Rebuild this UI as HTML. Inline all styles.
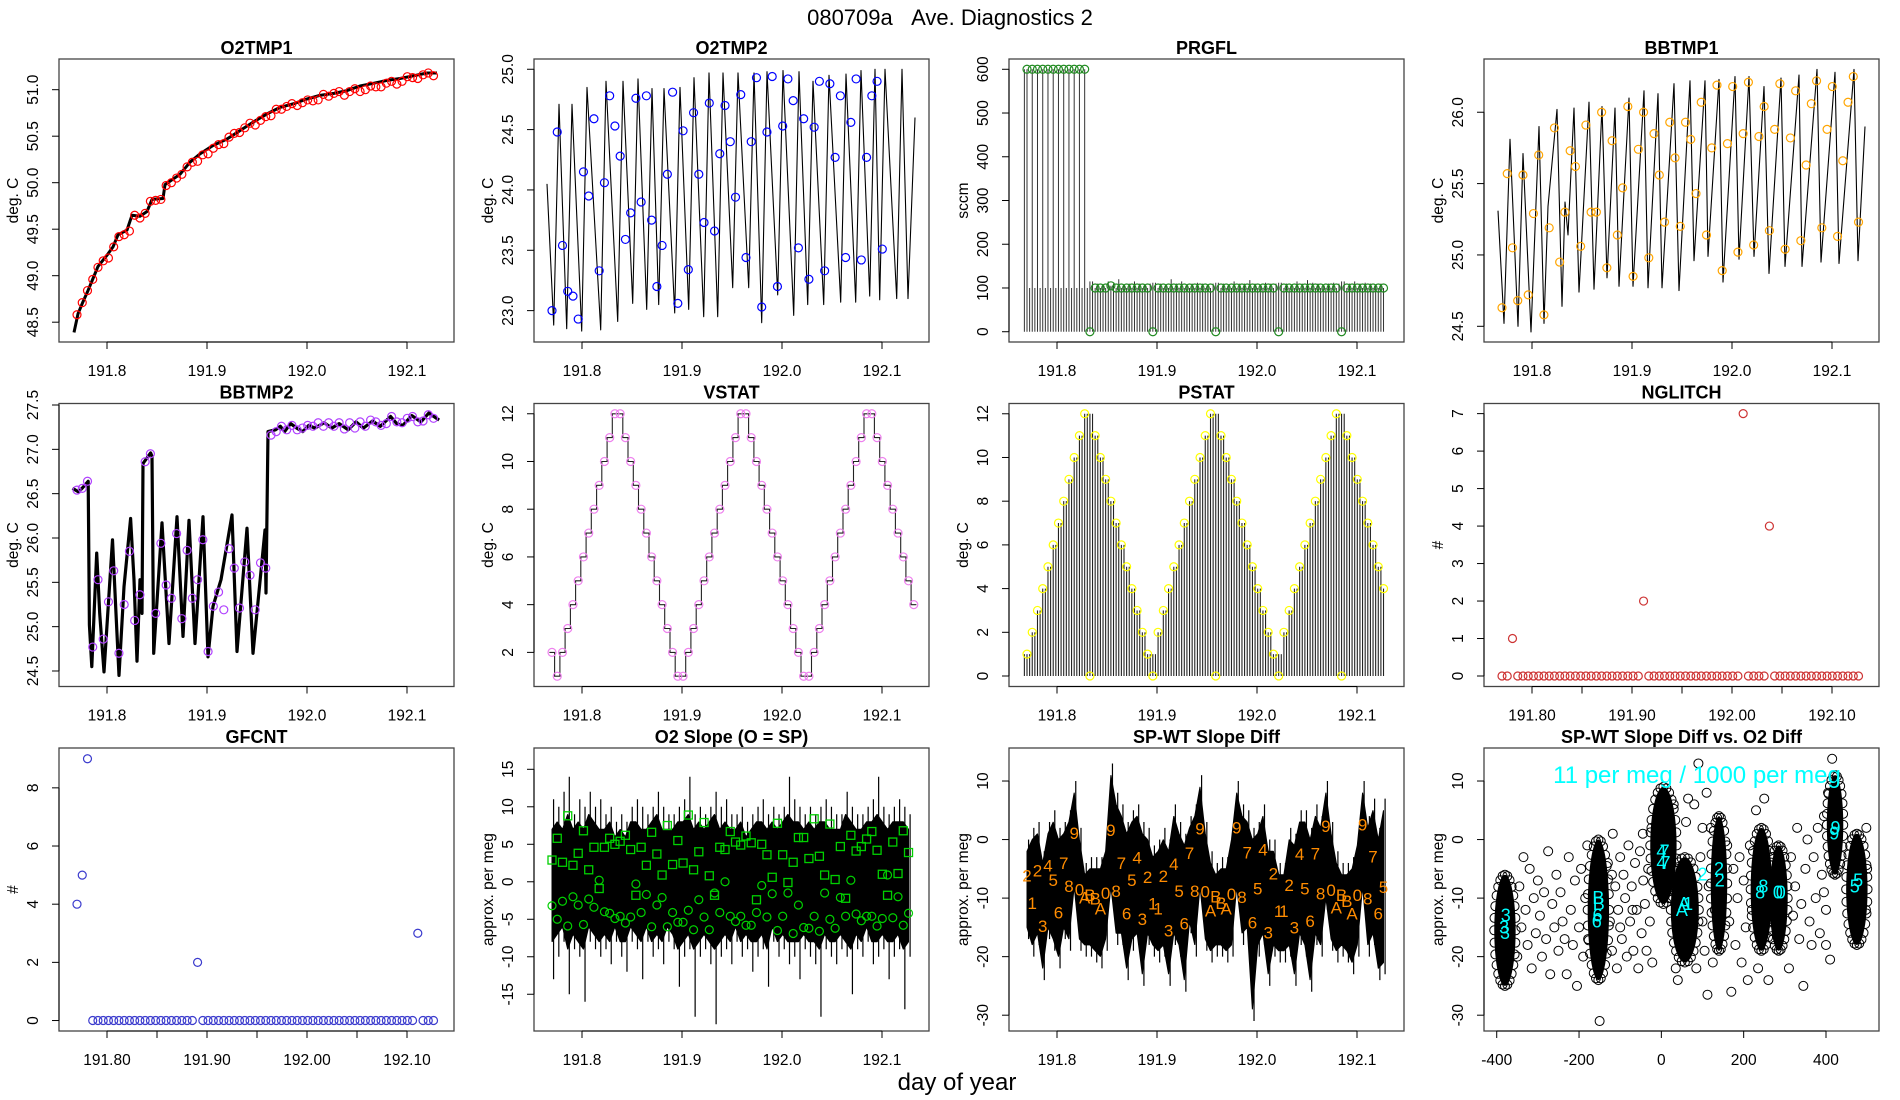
<!DOCTYPE html>
<html><head><meta charset="utf-8"><title>080709a Ave. Diagnostics 2</title>
<style>
html,body{margin:0;padding:0;background:#fff;}
svg{display:block;font-family:"Liberation Sans",Arial,sans-serif;}
</style></head>
<body>
<svg id="chart" width="1900" height="1100" viewBox="0 0 1900 1100" xmlns="http://www.w3.org/2000/svg">
<rect x="0" y="0" width="1900" height="1100" fill="#fff"/>
<text x="950" y="25" font-size="22" text-anchor="middle" fill="#000" style="white-space:pre">080709a&#160;&#160;&#160;Ave. Diagnostics 2</text>
<text x="957" y="1090" font-size="24" text-anchor="middle" fill="#000">day of year</text>
</svg>
<script>
// ---------------- data ----------------
const T0 = 191.770, DT = 0.005243;
const timeTicks = [191.8, 191.9, 192.0, 192.1];
const timeTickLabels = ["191.8", "191.9", "192.0", "192.1"];
const countTicks = [191.80, 191.85, 191.90, 191.95, 192.00, 192.05, 192.10];
const countTickLabels = ["191.80", "", "191.90", "", "192.00", "", "192.10"];

// O2TMP1
const o2t1LineT = [191.767,191.771,191.776,191.781,191.786,191.791,191.800,191.806,191.811,191.820,191.825,191.833,191.840,191.845,191.856,191.858,191.873,191.883,191.893,191.906,191.920,191.933,191.946,191.960,191.973,191.987,192.000,192.013,192.027,192.040,192.053,192.067,192.080,192.093,192.107,192.120,192.130];
const o2t1LineV = [48.39,48.59,48.72,48.84,48.97,49.10,49.22,49.31,49.44,49.49,49.65,49.64,49.69,49.82,49.83,49.98,50.09,50.22,50.31,50.40,50.47,50.56,50.65,50.74,50.81,50.85,50.90,50.94,50.96,50.99,51.04,51.07,51.10,51.12,51.15,51.18,51.18];
const o2t1Circ = [48.58,48.71,48.84,48.96,49.09,49.16,49.19,49.31,49.42,49.44,49.48,49.65,49.62,49.67,49.80,49.81,49.82,49.97,50.00,50.05,50.09,50.17,50.22,50.23,50.30,50.31,50.37,50.41,50.42,50.49,50.53,50.54,50.59,50.64,50.62,50.67,50.71,50.72,50.79,50.79,50.82,50.85,50.83,50.86,50.89,50.88,50.89,50.95,50.93,50.96,50.98,50.94,50.98,51.01,50.98,51.00,51.04,51.03,51.03,51.07,51.09,51.06,51.09,51.14,51.13,51.12,51.16,51.18,51.15];

// O2TMP2
const o2t2Start = [191.765, 24.05];
const o2t2End = [192.133, 24.60];
const o2t2PeakT = [191.777,191.790,191.805,191.824,191.841,191.856,191.870,191.882,191.898,191.912,191.927,191.941,191.956,191.972,191.985,192.001,192.017,192.031,192.047,192.064,192.079,192.093,192.103,192.120];
const o2t2PeakV = [24.71,24.71,24.85,24.90,24.90,24.92,24.84,24.84,24.85,24.93,24.97,24.97,24.97,24.97,24.98,24.99,24.98,24.90,24.95,24.96,24.99,25.00,25.00,25.00];
const o2t2TroughV = [22.88,22.85,22.83,22.84,22.91,23.06,23.01,23.05,22.98,23.01,22.95,22.95,23.19,23.19,22.90,23.13,22.96,23.05,23.05,23.07,23.07,23.12,23.09,23.10,23.10];
const o2t2Circ = [23.00,24.48,23.54,23.16,23.12,22.93,24.15,23.95,24.59,23.33,24.06,24.78,24.53,24.28,23.59,23.81,24.76,23.90,24.78,23.75,23.20,23.54,24.13,24.81,23.06,24.49,23.34,24.64,24.13,23.73,24.72,23.66,24.30,24.70,24.40,23.94,24.79,23.44,24.40,24.93,23.03,24.48,24.94,23.20,24.53,24.92,24.74,23.52,24.59,23.26,24.52,24.90,23.33,24.88,24.27,24.78,23.44,24.56,24.92,23.42,24.27,24.78,24.90,23.51];

// PRGFL
const prgflCirc = [600,600,600,600,600,600,600,600,600,600,600,600,0,100,100,100,105,100,100,100,100,100,100,100,0,100,100,100,100,100,100,100,100,100,100,100,0,100,100,100,100,100,100,100,100,100,100,100,0,100,100,100,100,100,100,100,100,100,100,100,0,100,100,100,100,100,100,100,100];
const prgflMid = [100,100,100,100,100,100,100,100,100,100,100,100,115,110,105,115,110,120,105,110,115,110,105,110,112,110,105,120,110,115,105,110,112,110,108,110,112,110,105,115,110,110,118,110,105,112,110,110,112,110,108,115,110,118,112,110,105,110,112,110,115,110,115,110,112,110,108,110,110];

// BBTMP1
const bb1T = [191.766,191.772,191.778,191.786,191.791,191.799,191.807,191.812,191.816,191.825,191.830,191.833,191.836,191.842,191.847,191.857,191.862,191.870,191.875,191.883,191.887,191.897,191.901,191.912,191.916,191.926,191.930,191.942,191.947,191.958,191.962,191.973,191.976,191.987,191.991,192.003,192.007,192.017,192.022,192.032,192.037,192.049,192.053,192.067,192.070,192.085,192.089,192.103,192.107,192.122,192.126,192.133];
const bb1V = [25.31,24.52,25.81,24.50,25.71,24.46,25.90,24.52,25.34,26.02,24.64,25.37,25.14,26.03,24.74,26.07,24.76,26.04,24.84,26.03,24.78,26.10,24.78,26.15,24.77,26.13,24.77,26.20,24.75,26.22,24.96,26.22,24.99,26.23,24.81,26.25,24.97,26.25,24.99,26.18,24.87,26.24,24.92,26.26,24.92,26.30,24.95,26.28,24.94,26.30,24.96,25.90];
const bb1Circ = [24.63,25.57,25.05,24.68,25.56,24.72,25.29,25.70,24.58,25.19,25.89,24.95,25.30,25.73,25.62,25.06,25.91,25.30,25.30,26.00,24.91,25.80,25.14,25.47,26.04,24.85,25.74,26.00,24.98,25.85,25.56,25.23,25.93,25.68,25.20,25.93,25.81,25.43,26.07,25.14,25.75,26.19,24.89,25.78,26.18,25.02,25.85,26.21,25.07,25.83,26.04,25.17,25.88,26.20,25.04,25.82,26.15,25.10,25.63,26.06,26.22,25.19,25.88,26.18,25.13,25.66,26.07,26.25,25.23];

// BBTMP2
const bb2T = [191.7655,191.7715,191.7758,191.7812,191.7824,191.7848,191.7897,191.7927,191.797,191.8055,191.809,191.812,191.817,191.8236,191.827,191.830,191.833,191.835,191.836,191.8436,191.845,191.8467,191.855,191.862,191.870,191.876,191.882,191.888,191.896,191.901,191.906,191.914,191.925,191.930,191.940,191.946,191.958,191.959,191.961,191.9685,191.9733,191.9776,191.9836,191.9897,191.9958,192.0018,192.0079,192.017,192.0248,192.0321,192.0412,192.049,192.0564,192.0655,192.0733,192.0836,192.0897,192.0958,192.1048,192.1139,192.1218,192.1321];
const bb2V = [26.56,26.52,26.57,26.64,25.02,24.55,25.83,25.15,24.49,25.98,25.15,24.45,25.45,26.22,25.53,24.61,25.53,25.15,26.84,26.96,26.92,24.70,26.17,24.81,26.24,24.89,26.20,24.81,26.24,24.66,25.23,25.53,26.26,24.72,26.11,24.70,26.09,25.38,27.20,27.22,27.26,27.20,27.29,27.24,27.20,27.27,27.24,27.30,27.24,27.29,27.22,27.31,27.24,27.32,27.26,27.37,27.29,27.27,27.38,27.31,27.41,27.33];
const bb2Circ = [26.54,26.56,26.64,24.77,25.53,24.86,25.28,25.63,24.70,25.25,25.85,25.07,25.36,26.86,26.95,25.15,25.94,25.47,25.32,26.05,25.09,25.86,25.32,25.53,25.98,24.72,25.23,25.39,25.19,25.88,25.66,25.21,25.73,25.58,25.19,25.72,25.66,27.16,27.20,27.26,27.22,27.27,27.22,27.24,27.27,27.26,27.30,27.26,27.30,27.26,27.30,27.23,27.30,27.24,27.31,27.26,27.33,27.31,27.27,27.29,27.37,27.31,27.30,27.35,27.37,27.31,27.32,27.39,27.35];

// VSTAT / PSTAT / NGLITCH / GFCNT
const vstat = [2,1,2,3,4,5,6,7,8,9,10,11,12,12,11,10,9,8,7,6,5,4,3,2,1,1,2,3,4,5,6,7,8,9,10,11,12,12,11,10,9,8,7,6,5,4,3,2,1,1,2,3,4,5,6,7,8,9,10,11,12,12,11,10,9,8,7,6,5,4];
const pstat = [1,2,3,4,5,6,7,8,9,10,11,12,0,11,10,9,8,7,6,5,4,3,2,1,0,2,3,4,5,6,7,8,9,10,11,12,0,11,10,9,8,7,6,5,4,3,2,1,0,2,3,4,5,6,7,8,9,10,11,12,0,11,10,9,8,7,6,5,4];
const pstatMid = [1,2,3,4,5,6,7,8,9,10,11,12,12,11,10,9,8,7,6,5,4,3,2,1,1,2,3,4,5,6,7,8,9,10,11,12,12,11,10,9,8,7,6,5,4,3,2,1,1,2,3,4,5,6,7,8,9,10,11,12,12,11,10,9,8,7,6,5,4];
const nglitch = [0,0,1,0,0,0,0,0,0,0,0,0,0,0,0,0,0,0,0,0,0,0,0,0,0,0,0,2,0,0,0,0,0,0,0,0,0,0,0,0,0,0,0,0,0,0,7,0,0,0,0,4,0,0,0,0,0,0,0,0,0,0,0,0,0,0,0,0,0];
const gfcnt = [4,5,9,0,0,0,0,0,0,0,0,0,0,0,0,0,0,0,0,0,0,0,0,2,0,0,0,0,0,0,0,0,0,0,0,0,0,0,0,0,0,0,0,0,0,0,0,0,0,0,0,0,0,0,0,0,0,0,0,0,0,0,0,0,0,3,0,0,0];

// O2 Slope: core band and spike extremes
const slopeHi = [7,8,7,9,7,8,7,9,8,7,7,8,6,7,6,8,8,7,7,8,9,7,7,7,8,8,9,7,8,7,8,9,7,8,7,7,8,6,7,8,8,7,8,7,8,9,8,8,7,8,7,8,8,7,7,7,9,8,7,7,8,8,9,8,7,8,8,8,7];
const slopeLo = [-8,-7,-6,-9,-7,-8,-9,-6,-7,-8,-7,-8,-6,-8,-8,-6,-7,-8,-6,-8,-7,-8,-6,-7,-9,-8,-7,-9,-8,-7,-8,-9,-8,-7,-8,-6,-8,-7,-8,-8,-7,-9,-6,-8,-7,-8,-8,-8,-7,-8,-8,-9,-7,-8,-8,-7,-8,-9,-7,-8,-6,-8,-8,-7,-8,-8,-7,-9,-8];
const slopeSpikeHi = [11,10,12,14,9,11,10,12,10,11,9,10,8,9,8,10,11,10,9,10,12,10,9,9,10,11,14,9,10,9,10,12,10,11,9,9,10,8,9,10,11,9,10,9,10,14,11,10,9,10,9,10,11,10,9,9,12,10,9,9,10,11,14,10,9,10,11,10,9];
const slopeSpikeLo = [-13,-10,-8,-15,-9,-10,-16,-8,-9,-10,-9,-11,-8,-10,-12,-8,-9,-13,-8,-10,-9,-11,-8,-9,-14,-10,-9,-18,-10,-9,-11,-19,-10,-9,-11,-8,-10,-9,-12,-10,-9,-14,-8,-10,-9,-11,-10,-13,-9,-10,-11,-18,-9,-10,-11,-9,-10,-15,-9,-10,-8,-11,-10,-9,-13,-10,-9,-17,-10];
const slopeSq = [2.9,5.8,2.6,8.8,2.2,3.8,6.8,1.6,4.6,-0.9,4.6,5.8,5.0,5.4,6.2,4.3,-1.8,4.6,2.2,6.6,3.7,0.9,7.5,2.3,5.5,2.5,8.9,1.6,4.0,7.9,0.8,-1.8,4.6,4.3,6.7,5.3,4.9,6.1,5.2,-2.4,5.0,3.6,0.6,7.8,3.6,-0.1,2.6,5.9,5.9,3.1,8.4,3.4,0.9,7.7,0.3,4.7,-2.2,6.2,4.1,4.7,5.7,6.7,4.2,1.0,-1.8,5.3,1.1,6.8,3.9];
const slopeCirc = [-3.2,-5.0,-2.6,-5.9,-2.0,-3.1,-5.7,-2.3,-3.4,0.2,-4.0,-4.2,-4.9,-4.6,-5.5,-4.7,-0.3,-4.1,-1.7,-6.0,-3.1,-2.1,-6.0,-4.1,-5.4,-5.4,-3.8,-6.4,-2.4,-4.7,-6.4,-1.5,-4.1,0.0,-4.6,-5.3,-4.6,-5.8,-5.8,-4.1,-0.5,-4.7,-1.6,-6.5,-4.6,-1.5,-6.9,-3.1,-6.1,-6.2,-4.6,-6.6,-1.5,-5.0,-6.2,-2.1,-4.6,0.2,-4.3,-5.2,-4.6,-4.6,-5.9,-4.9,0.9,-4.8,-2.0,-5.8,-4.2];

// SP-WT Slope Diff
const diffHi = [0,2,3,-2,3,5,2,3,5,10,2,-4,-3,-3,-3,0,13,8,6,3,5,6,3,2,-1,0,2,0,6,3,1,4,6,11,3,-2,-4,-3,-3,2,10,6,5,2,3,6,0,0,-4,-4,2,1,5,5,2,6,4,10,3,-2,-4,-4,-3,1,10,4,7,2,7];
const diffLo = [-17,-20,-18,-24,-17,-19,-22,-17,-19,-10,-19,-20,-20,-21,-22,-19,-10,-18,-18,-24,-19,-18,-25,-18,-20,-21,-20,-25,-18,-20,-26,-16,-20,-10,-19,-21,-20,-20,-21,-20,-10,-18,-17,-31,-20,-18,-25,-20,-21,-21,-20,-25,-18,-20,-26,-18,-20,-12,-19,-21,-20,-21,-23,-20,-10,-20,-18,-24,-23];
const diffLbl = ["2","1","2","3","4","5","6","7","8","9","0","A","B","B","A","0","9","8","7","6","5","4","3","2","1","1","2","3","4","5","6","7","8","9","0","A","B","B","A","0","9","8","7","6","5","4","3","2","1","1","2","3","4","5","6","7","8","9","0","A","B","B","A","0","9","8","7","6","5"];
const diffLblV = [-6.1,-10.8,-5.3,-14.8,-4.4,-6.9,-12.5,-4.0,-7.9,1.1,-8.5,-9.9,-9.5,-10.1,-11.8,-9.1,1.6,-8.8,-4.0,-12.6,-6.9,-3.1,-13.6,-6.4,-10.9,-11.8,-6.2,-15.5,-4.2,-8.8,-14.3,-2.3,-8.8,1.9,-8.9,-12.1,-9.7,-10.8,-11.8,-9.3,2.1,-9.8,-2.2,-14.2,-8.4,-1.7,-15.9,-5.8,-12.2,-12.2,-7.8,-15.0,-2.5,-8.4,-13.9,-2.4,-9.2,2.3,-8.6,-11.6,-9.5,-10.5,-12.6,-9.5,2.6,-10.1,-2.9,-12.6,-8.1];

// Scatter: SP-WT slope diff vs O2 diff
const clusterX = [-380,-153,5,57,140,243,285,422,475];
const clusterXSpread = [26,26,32,34,20,26,22,20,26];
const clusterYLo = [-25,-24,-11,-21,-19,-19,-19,-6,-18];
const clusterYHi = [-6,0,9,-3,4,2,-1,11,1];
const scatX = [-350,-345,-340,-335,-330,-325,-320,-315,-310,-305,-300,-295,-290,-285,-280,-275,-270,-265,-260,-255,-250,-245,-240,-235,-230,-225,-220,-215,-210,-205,-200,-195,-190,-185,-180,-178,
 -130,-125,-120,-118,-112,-108,-105,-100,-96,-92,-88,-84,-80,-76,-72,-68,-64,-60,-56,-52,-48,-44,-40,-36,-32,-28,-24,-22,-120,-100,-70,-45,
 30,35,40,60,65,80,90,95,100,105,110,112,115,120,125,130,100,85,
 160,165,170,175,180,185,190,195,200,205,210,215,220,230,235,250,260,
 310,315,320,325,330,335,340,345,350,355,360,365,370,375,380,385,390,395,400,405,410,415,400,395,
 497,500,498,-150];
const scatY = [-20,-8,-15,-3,-12,-18,-5,-22,-10,-16,-7,-13,-20,-9,-17,-2,-23,-11,-15,-6,-19,-9,-14,-17,-23,-3,-12,-18,-7,-25,-15,-5,-20,-10,-1,-17,
 -4,-14,-19,1,-8,-22,-12,-3,-17,-6,-10,-20,-1,-14,-8,-19,-4,-12,-22,-2,-16,-7,-11,-19,-5,-14,2,-21,-6,-15,-12,1,
 6,-22,-24,3,7,6,13,-3,-14,-19,8,-26.5,-8,2,-21,-12,2,-22,
 -1,-14,-26,-5,-18,-10,-3,-21,-7,-15,-24,-1,-12,5,-22,7,-24,
 -22,-3,-13,-8,2,-17,-11,-25,-5,0,-14,-18,-3,-10,2,-16,-6,4,-12,8,-20.5,13.8,-18,-9,
 -12,-5,2,-31];
const cyanX = [-382,-378,-380,-153,-155,-152,-157,0,8,0,10,55,65,50,100,140,142,240,248,283,290,420,423,478,470];
const cyanY = [-15,-13,-16,-10,-13,-11,-14,-2,-2,-4,-4,-11,-11,-12,-6,-5,-7,-9,-8,-9,-9,1,2,-7,-8];
const cyanTxt = ["3","3","3","B","6","B","6","4","7","4","7","A","1","A","2","2","2","8","8","0","0","9","9","5","5"];
const scatXTicks = [-400,-200,0,200,400];
const scatXTickLabels = ["-400","-200","0","200","400"];

// ---------------- drawing ----------------
const NS = "http://www.w3.org/2000/svg";
const svg = document.getElementById("chart");
const COLX = [59, 534, 1009, 1484];
const ROWY = [59, 403.5, 748];
const BW = 395, BH = 283;
const TDOM = [191.752, 192.147];

function mk(tag, attrs, parent) {
  const e = document.createElementNS(NS, tag);
  for (const k in attrs) e.setAttribute(k, attrs[k]);
  (parent || svg).appendChild(e);
  return e;
}
function tAt(i) { return T0 + i * DT; }

function frame(c, r, name, title, ylab, ylim, yticks, ylabels, xticks, xlabels, xdom) {
  const x0 = COLX[c], y0 = ROWY[r];
  const g = mk("g", {});
  
  
  const sx = v => x0 + (v - xdom[0]) / (xdom[1] - xdom[0]) * BW;
  const sy = v => y0 + BH - (v - ylim[0]) / (ylim[1] - ylim[0]) * BH;
  const box = mk("rect", {x: x0, y: y0, width: BW, height: BH, fill: "none", stroke: "#444", "stroke-width": 1.3}, g);
  
  
  const tt = mk("text", {x: x0 + BW / 2, y: y0 - 5, "font-size": 18, "font-weight": "bold", "text-anchor": "middle"}, g);
  tt.textContent = title;
  
  
  const yax = mk("g", {}, g);
  
  
  const yl = mk("line", {x1: x0, x2: x0, y1: sy(yticks[0]), y2: sy(yticks[yticks.length - 1]), stroke: "#000", "stroke-width": 1}, yax);
  
  
  yticks.forEach((v, i) => {
    const tk = mk("line", {x1: x0 - 7, x2: x0, y1: sy(v), y2: sy(v), stroke: "#000", "stroke-width": 1}, yax);
    
    
    const lb = mk("text", {x: x0 - 21, y: sy(v), "font-size": 15.5, "text-anchor": "middle", transform: `rotate(-90 ${x0 - 21} ${sy(v)})`}, yax);
    lb.textContent = ylabels[i];
    
    
  });
  const yt = mk("text", {x: x0 - 41, y: y0 + BH / 2, "font-size": 15.5, "text-anchor": "middle", transform: `rotate(-90 ${x0 - 41} ${y0 + BH / 2})`}, g);
  yt.textContent = ylab;
  
  
  const xax = mk("g", {}, g);
  
  
  const xl = mk("line", {x1: sx(xticks[0]), x2: sx(xticks[xticks.length - 1]), y1: y0 + BH, y2: y0 + BH, stroke: "#000", "stroke-width": 1}, xax);
  
  
  xticks.forEach((v, i) => {
    const tk = mk("line", {x1: sx(v), x2: sx(v), y1: y0 + BH, y2: y0 + BH + 7, stroke: "#000", "stroke-width": 1}, xax);
    
    
    if (xlabels[i]) {
      const lb = mk("text", {x: sx(v), y: y0 + BH + 34, "font-size": 15.5, "text-anchor": "middle"}, xax);
      lb.textContent = xlabels[i];
      
      
    }
  });
  const clipId = "clip-" + name;
  const cp = mk("clipPath", {id: clipId}, g);
  mk("rect", {x: x0, y: y0, width: BW, height: BH}, cp);
  const marks = mk("g", {"clip-path": `url(#${clipId})`}, g);
  
  
  return {g: marks, sx, sy};
}
function rng(a, b, s) { const o = []; for (let v = a; v <= b + 1e-9; v += s) o.push(+v.toFixed(4)); return o; }
function fmt(arr, d) { return arr.map(v => v.toFixed(d)); }

function polyline(P, xs, ys, stroke, sw, name) {
  const pts = xs.map((x, i) => P.sx(x).toFixed(1) + "," + P.sy(ys[i]).toFixed(1)).join(" ");
  const e = mk("polyline", {points: pts, fill: "none", stroke: stroke, "stroke-width": sw, "stroke-linejoin": "round"}, P.g);
  
  
  return e;
}
function circles(P, vals, color, name) {
  vals.forEach((v, i) => {
    const c = mk("circle", {cx: P.sx(tAt(i)), cy: P.sy(v), r: 4, fill: "none", stroke: color, "stroke-width": 1.2}, P.g);
    
    
  });
}
function spikes(P, hi, lo, name) {
  hi.forEach((v, i) => {
    const x = P.sx(tAt(i) + DT * 0.3);
    const l = mk("line", {x1: x, x2: x, y1: P.sy(v), y2: P.sy(lo[i]), stroke: "#000", "stroke-width": 1.2}, P.g);
    
    
  });
}

// 1 O2TMP1
{
  const yt = rng(48.5, 51.0, 0.5);
  const P = frame(0, 0, "o2tmp1", "O2TMP1", "deg. C", [48.287, 51.33], yt, fmt(yt, 1), timeTicks, timeTickLabels, TDOM);
  polyline(P, o2t1LineT, o2t1LineV, "#000", 3, "o2tmp1-line");
  circles(P, o2t1Circ, "#ff0000", "o2tmp1-point");
}
// 2 O2TMP2
{
  const yt = rng(23.0, 25.0, 0.5);
  const P = frame(1, 0, "o2tmp2", "O2TMP2", "deg. C", [22.74, 25.085], yt, fmt(yt, 1), timeTicks, timeTickLabels, TDOM);
  const xs = [o2t2Start[0]], ys = [o2t2Start[1]];
  o2t2PeakT.forEach((t, i) => { xs.push(t - 0.0053); ys.push(o2t2TroughV[i]); xs.push(t); ys.push(o2t2PeakV[i]); });
  xs.push(o2t2PeakT[o2t2PeakT.length - 1] + 0.006); ys.push(o2t2TroughV[o2t2TroughV.length - 1]);
  xs.push(o2t2End[0]); ys.push(o2t2End[1]);
  polyline(P, xs, ys, "#000", 1.1, "o2tmp2-line");
  circles(P, o2t2Circ, "#0000ff", "o2tmp2-point");
}
// 3 PRGFL
{
  const yt = rng(0, 600, 100);
  const P = frame(2, 0, "prgfl", "PRGFL", "sccm", [-23.5, 623.5], yt, yt.map(String), timeTicks, timeTickLabels, TDOM);
  prgflCirc.forEach((v, i) => {
    const l = mk("line", {x1: P.sx(tAt(i) - DT / 2), x2: P.sx(tAt(i) - DT / 2), y1: P.sy(0), y2: P.sy(i === 0 ? v : prgflMid[i - 1]), stroke: "#333", "stroke-width": 1}, P.g);
    
    
    const l2 = mk("line", {x1: P.sx(tAt(i)), x2: P.sx(tAt(i)), y1: P.sy(0), y2: P.sy(v === 0 ? prgflMid[i] : v), stroke: "#333", "stroke-width": 1}, P.g);
    
    
  });
  circles(P, prgflCirc, "#228b22", "prgfl-point");
}
// 4 BBTMP1
{
  const yt = rng(24.5, 26.0, 0.5);
  const P = frame(3, 0, "bbtmp1", "BBTMP1", "deg. C", [24.39, 26.373], yt, fmt(yt, 1), timeTicks, timeTickLabels, TDOM);
  polyline(P, bb1T, bb1V, "#000", 1.1, "bbtmp1-line");
  circles(P, bb1Circ, "#ffa500", "bbtmp1-point");
}
// 5 BBTMP2
{
  const yt = rng(24.5, 27.5, 0.5);
  const P = frame(0, 1, "bbtmp2", "BBTMP2", "deg. C", [24.325, 27.517], yt, fmt(yt, 1), timeTicks, timeTickLabels, TDOM);
  polyline(P, bb2T, bb2V, "#000", 3.2, "bbtmp2-line");
  circles(P, bb2Circ, "#b040ff", "bbtmp2-point");
}
// 6 VSTAT
{
  const yt = rng(2, 12, 2);
  const P = frame(1, 1, "vstat", "VSTAT", "deg. C", [0.57, 12.43], yt, yt.map(String), timeTicks, timeTickLabels, TDOM);
  let d = "";
  vstat.forEach((v, i) => {
    const x = P.sx(tAt(i) - DT / 2), x2 = P.sx(tAt(i) + DT / 2), y = P.sy(v);
    d += (i === 0 ? "M" : "L") + x.toFixed(1) + "," + y.toFixed(1) + " L" + x2.toFixed(1) + "," + y.toFixed(1) + " ";
  });
  const p = mk("path", {d: d, fill: "none", stroke: "#222", "stroke-width": 1.1}, P.g);
  
  
  circles(P, vstat, "#ee82ee", "vstat-point");
}
// 7 PSTAT
{
  const yt = rng(0, 12, 2);
  const P = frame(2, 1, "pstat", "PSTAT", "deg. C", [-0.48, 12.47], yt, yt.map(String), timeTicks, timeTickLabels, TDOM);
  pstat.forEach((v, i) => {
    [[tAt(i) - DT / 2, i === 0 ? v : pstatMid[i - 1]], [tAt(i), pstatMid[i]]].forEach(q => {
      const l = mk("line", {x1: P.sx(q[0]), x2: P.sx(q[0]), y1: P.sy(0), y2: P.sy(q[1]), stroke: "#222", "stroke-width": 1.1}, P.g);
      
      
    });
  });
  circles(P, pstat, "#ffff00", "pstat-point");
}
// 8 NGLITCH
{
  const yt = rng(0, 7, 1);
  const P = frame(3, 1, "nglitch", "NGLITCH", "#", [-0.28, 7.27], yt, yt.map(String), countTicks, countTickLabels, TDOM);
  circles(P, nglitch, "#cd3333", "nglitch-point");
}
// 9 GFCNT
{
  const yt = rng(0, 8, 2);
  const P = frame(0, 2, "gfcnt", "GFCNT", "#", [-0.36, 9.37], yt, yt.map(String), countTicks, countTickLabels, TDOM);
  circles(P, gfcnt, "#3a3acd", "gfcnt-point");
}
// 10 O2 Slope
{
  const yt = rng(-15, 15, 5);
  const P = frame(1, 2, "o2-slope", "O2 Slope (O = SP)", "approx. per meg", [-19.9, 17.84], yt, yt.map(String), timeTicks, timeTickLabels, TDOM);
  spikes(P, slopeSpikeHi, slopeSpikeLo, 'o2-slope-spike');
  const up = slopeHi.map((v, i) => P.sx(tAt(i)).toFixed(1) + "," + P.sy(v).toFixed(1));
  const dn = slopeLo.map((v, i) => P.sx(tAt(i)).toFixed(1) + "," + P.sy(v).toFixed(1)).reverse();
  const band = mk("polygon", {points: up.concat(dn).join(" "), fill: "#000", stroke: "#000", "stroke-width": 1, "stroke-linejoin": "bevel"}, P.g);
  
  
  slopeSq.forEach((v, i) => {
    const s = mk("rect", {x: P.sx(tAt(i)) - 4, y: P.sy(v) - 4, width: 8, height: 8, fill: "none", stroke: "#00d000", "stroke-width": 1.3}, P.g);
    
    
  });
  circles(P, slopeCirc, "#00d000", "o2-slope-circle");
}
// 11 SP-WT Slope Diff
{
  const yt = rng(-30, 10, 10);
  const P = frame(2, 2, "spwt-diff", "SP-WT Slope Diff", "approx. per meg", [-32.7, 15.64], yt, yt.map(String), timeTicks, timeTickLabels, TDOM);
  spikes(P, diffHi, diffLo, 'spwt-diff-spike');
  const up = diffHi.map((v, i) => P.sx(tAt(i)).toFixed(1) + "," + P.sy(v - 2).toFixed(1));
  const dn = diffLo.map((v, i) => P.sx(tAt(i)).toFixed(1) + "," + P.sy(v + 2).toFixed(1)).reverse();
  const band = mk("polygon", {points: up.concat(dn).join(" "), fill: "#000", stroke: "#000", "stroke-width": 1, "stroke-linejoin": "bevel"}, P.g);
  
  
  diffLbl.forEach((s, i) => {
    const t = mk("text", {x: P.sx(tAt(i)), y: P.sy(diffLblV[i]) + 6, "font-size": 17, "text-anchor": "middle", fill: "#ff8c00"}, P.g);
    t.textContent = s;
    
    
  });
}
// 12 Scatter
{
  const yt = rng(-30, 10, 10);
  const P = frame(3, 2, "spwt-vs-o2", "SP-WT Slope Diff vs. O2 Diff", "approx. per meg", [-32.7, 15.64], yt, yt.map(String), scatXTicks, scatXTickLabels, [-430.9, 528.8]);
  scatX.forEach((x, i) => {
    const c = mk("circle", {cx: P.sx(x), cy: P.sy(scatY[i]), r: 4.5, fill: "none", stroke: "#000", "stroke-width": 1}, P.g);
    
    
  });
  clusterX.forEach((x, i) => {
    const cx = P.sx(x), cy = (P.sy(clusterYLo[i]) + P.sy(clusterYHi[i])) / 2;
    const rx = Math.abs(P.sx(x + clusterXSpread[i]) - cx), ry = Math.abs(P.sy(clusterYLo[i]) - P.sy(clusterYHi[i])) / 2;
    const e = mk("ellipse", {cx: cx, cy: cy, rx: rx, ry: ry, fill: "#000"}, P.g);
    
    
    for (let k = 0; k < 28; k++) {
      const a = k / 28 * 2 * Math.PI;
      const c = mk("circle", {cx: cx + Math.cos(a) * rx, cy: cy + Math.sin(a) * ry, r: 4.5, fill: "none", stroke: "#000", "stroke-width": 1}, P.g);
      
      
    }
  });
  cyanTxt.forEach((s, i) => {
    const t = mk("text", {x: P.sx(cyanX[i]), y: P.sy(cyanY[i]) + 6, "font-size": 18, "text-anchor": "middle", fill: "#00ffff"}, P.g);
    t.textContent = s;
    
    
  });
  const note = mk("text", {x: 1697, y: 783, "font-size": 24, "text-anchor": "middle", fill: "#00ffff"}, P.g);
  note.textContent = "11 per meg / 1000 per meg";
  
  
}
</script>
</body></html>
